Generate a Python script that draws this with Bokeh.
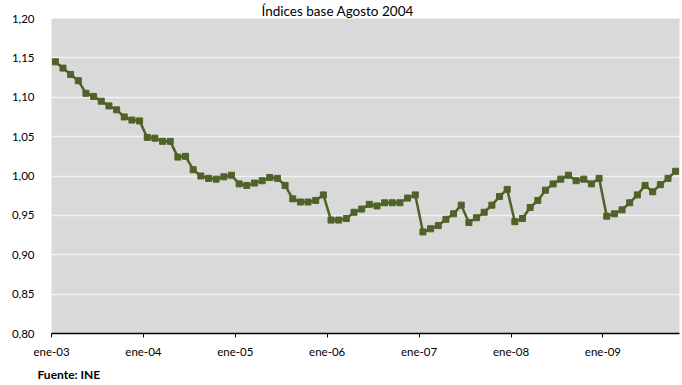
from bokeh.plotting import figure
from bokeh.models import FixedTicker, ColumnDataSource, Range1d, Title
from bokeh.embed import file_html
from bokeh.resources import INLINE

# Monthly index, Jan 2003 - Oct 2009 (base August 2004)
indice = [
    1.145, 1.137, 1.129, 1.121, 1.105, 1.101, 1.095, 1.089, 1.084, 1.075, 1.071, 1.070,
    1.049, 1.048, 1.044, 1.044, 1.024, 1.025, 1.008, 1.000, 0.997, 0.996, 0.999, 1.001,
    0.990, 0.988, 0.991, 0.994, 0.998, 0.997, 0.988, 0.971, 0.967, 0.967, 0.969, 0.976,
    0.944, 0.944, 0.946, 0.954, 0.958, 0.964, 0.962, 0.966, 0.966, 0.966, 0.972, 0.976,
    0.929, 0.933, 0.937, 0.945, 0.952, 0.963, 0.941, 0.947, 0.954, 0.963, 0.974, 0.983,
    0.942, 0.946, 0.960, 0.969, 0.982, 0.990, 0.996, 1.001, 0.994, 0.996, 0.990, 0.997,
    0.949, 0.952, 0.957, 0.966, 0.976, 0.988, 0.980, 0.989, 0.997, 1.006,
]
etiquetas_x = ["ene-03", "ene-04", "ene-05", "ene-06", "ene-07", "ene-08", "ene-09"]
valores_y = [0.80, 0.85, 0.90, 0.95, 1.00, 1.05, 1.10, 1.15, 1.20]
etiquetas_y = ["0,80", "0,85", "0,90", "0,95", "1,00", "1,05", "1,10", "1,15", "1,20"]

n = len(indice)
meses = [i + 0.5 for i in range(n)]  # each point centred in its month
src = ColumnDataSource(dict(x=meses, y=indice))

FONT = "Lato"
OLIVE = "#4F6228"

p = figure(width=682, height=385, output_backend="svg", toolbar_location=None,
           x_range=Range1d(0, n), y_range=Range1d(0.80, 1.20),
           min_border_left=51, min_border_right=3, min_border_top=15, min_border_bottom=52)
p.background_fill_color = "#D9D9D9"
p.border_fill_color = "white"
p.outline_line_color = None

p.title = Title(text="Índices base Agosto 2004", align="left", offset=210,
                text_font=FONT, text_font_size="13.5px", text_font_style="normal",
                text_color="black", standoff=0)
p.add_layout(Title(text="Fuente: INE", align="left", offset=-14,
                   text_font=FONT, text_font_size="12px", text_font_style="bold",
                   text_color="black", standoff=8), "below")

p.line("x", "y", source=src, line_color=OLIVE, line_width=2.5)
p.scatter("x", "y", source=src, marker="square", size=6, fill_color=OLIVE, line_color=OLIVE)

# x axis: one tick per January
xt = [12 * i for i in range(len(etiquetas_x))]
p.xaxis.ticker = FixedTicker(ticks=xt)
p.xaxis.major_label_overrides = {t: lab for t, lab in zip(xt, etiquetas_x)}
p.xaxis.axis_line_color = "black"
p.xaxis.axis_line_width = 1.5
p.xaxis.major_tick_line_color = "black"
p.xaxis.major_tick_out = 4
p.xaxis.major_tick_in = 0
p.xaxis.minor_tick_line_color = None
p.xaxis.major_label_standoff = 7
p.xaxis.major_label_text_font = FONT
p.xaxis.major_label_text_font_size = "11.5px"
p.xaxis.major_label_text_color = "black"

# y axis
p.yaxis.ticker = FixedTicker(ticks=valores_y)
p.yaxis.major_label_overrides = {v: lab for v, lab in zip(valores_y, etiquetas_y)}
p.yaxis.axis_line_color = None
p.yaxis.major_tick_line_color = None
p.yaxis.minor_tick_line_color = None
p.yaxis.major_label_standoff = 11
p.yaxis.major_label_text_font = FONT
p.yaxis.major_label_text_font_size = "11.5px"
p.yaxis.major_label_text_color = "black"

p.xgrid.grid_line_color = None
p.ygrid.grid_line_color = "#F2F2F2"
p.ygrid.grid_line_width = 1.5

open("out.html", "w").write(file_html(p, INLINE))
